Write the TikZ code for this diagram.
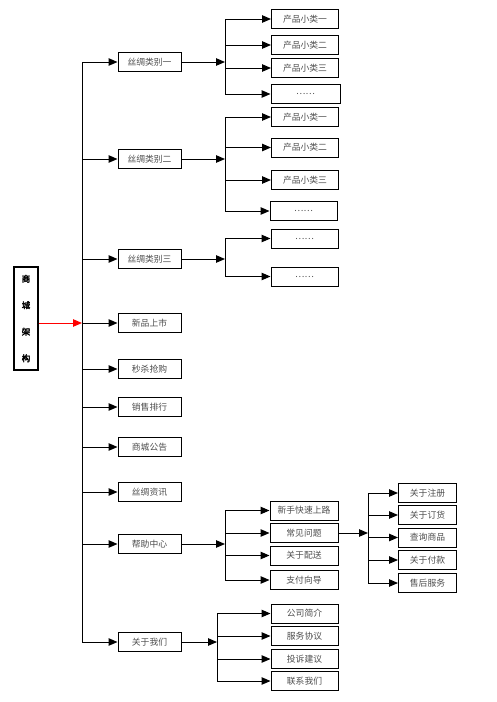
\documentclass[tikz,border=0pt]{standalone}
\usepackage{fontspec}
\newfontfamily\cjk{Noto Sans CJK SC}
\newfontfamily\cjkbold[FakeBold=3]{Noto Sans CJK SC}
\usetikzlibrary{arrows.meta}
\begin{document}
\begin{tikzpicture}[x=1pt,y=-1pt,
		box/.style={draw,line width=1pt,minimum height=19pt,inner sep=0pt,text=black!70,font=\cjk\fontsize{8.8}{10}\selectfont},
		catbox/.style={box,minimum width=63pt},
		subbox/.style={box,minimum width=67pt},
		faqbox/.style={box,minimum width=58pt},
		arr/.style={line width=1pt,-{Triangle[length=9pt,width=7.5pt]}},
		ln/.style={line width=1pt}]
		\useasboundingbox (0,0) rectangle (496,702);
		\node[draw,line width=1.1pt,minimum width=24pt,minimum height=103pt,inner sep=0pt,align=center,font=\cjkbold\fontsize{8.5}{26.5}\selectfont] (root) at (26,318.5) {商\\城\\架\\构};
		\coordinate (trunk) at (82,0);
		\coordinate (ja) at (225,0);
		\coordinate (jb) at (225,0);
		\coordinate (jc) at (225,0);
		\coordinate (jh) at (225,0);
		\coordinate (ju) at (217,0);
		\coordinate (jq) at (368,0);
		\node[catbox] (c1) at (149.5,62) {丝绸类别一};
		\node[catbox] (c2) at (149.5,159) {丝绸类别二};
		\node[catbox] (c3) at (149.5,259) {丝绸类别三};
		\node[catbox] (c4) at (149.5,323) {新品上市};
		\node[catbox] (c5) at (149.5,369) {秒杀抢购};
		\node[catbox] (c6) at (149.5,407) {销售排行};
		\node[catbox] (c7) at (149.5,447) {商城公告};
		\node[catbox] (c8) at (149.5,492) {丝绸资讯};
		\node[catbox] (c9) at (149.5,544) {帮助中心};
		\node[catbox] (c10) at (149.5,642) {关于我们};
		\node[subbox] (a1) at (305,19) {产品小类一};
		\node[subbox] (a2) at (305,45) {产品小类二};
		\node[subbox] (a3) at (305,68) {产品小类三};
		\node[subbox,minimum width=69pt] (a4) at (305.5,94) {……};
		\node[subbox] (b1) at (305,117) {产品小类一};
		\node[subbox] (b2) at (305,147.5) {产品小类二};
		\node[subbox] (b3) at (305,180) {产品小类三};
		\node[subbox] (b4) at (303.5,211) {……};
		\node[subbox] (d1) at (304.5,238.5) {……};
		\node[subbox] (d2) at (304.5,276.5) {……};
		\node[subbox,minimum width=68pt] (h1) at (304,510.5) {新手快速上路};
		\node[subbox,minimum width=68pt] (h2) at (304,533) {常见问题};
		\node[subbox,minimum width=68pt] (h3) at (304,555.5) {关于配送};
		\node[subbox,minimum width=68pt] (h4) at (304,580) {支付向导};
		\node[subbox] (u1) at (304.5,613.5) {公司简介};
		\node[subbox] (u2) at (304.5,636) {服务协议};
		\node[subbox] (u3) at (304.5,659) {投诉建议};
		\node[subbox] (u4) at (304.5,681) {联系我们};
		\node[faqbox] (q1) at (427.5,493) {关于注册};
		\node[faqbox] (q2) at (427.5,515) {关于订货};
		\node[faqbox] (q3) at (427.5,537.5) {查询商品};
		\node[faqbox] (q4) at (427.5,560) {关于付款};
		\node[faqbox] (q5) at (427.5,583) {售后服务};
		\draw[arr,red] (root.east |- c4.west) -- (trunk |- c4.west);
		\draw[ln] (trunk |- c1.west) -- (trunk |- c10.west);
		\draw[arr] (trunk |- c1.west) -- (c1.west);
		\draw[arr] (trunk |- c2.west) -- (c2.west);
		\draw[arr] (trunk |- c3.west) -- (c3.west);
		\draw[arr] (trunk |- c4.west) -- (c4.west);
		\draw[arr] (trunk |- c5.west) -- (c5.west);
		\draw[arr] (trunk |- c6.west) -- (c6.west);
		\draw[arr] (trunk |- c7.west) -- (c7.west);
		\draw[arr] (trunk |- c8.west) -- (c8.west);
		\draw[arr] (trunk |- c9.west) -- (c9.west);
		\draw[arr] (trunk |- c10.west) -- (c10.west);
		\draw[arr] (c1.east) -- (ja |- c1.east);
		\draw[ln] (ja |- a1.west) -- (ja |- a4.west);
		\draw[arr] (ja |- a1.west) -- (a1.west);
		\draw[arr] (ja |- a2.west) -- (a2.west);
		\draw[arr] (ja |- a3.west) -- (a3.west);
		\draw[arr] (ja |- a4.west) -- (a4.west);
		\draw[arr] (c2.east) -- (jb |- c2.east);
		\draw[ln] (jb |- b1.west) -- (jb |- b4.west);
		\draw[arr] (jb |- b1.west) -- (b1.west);
		\draw[arr] (jb |- b2.west) -- (b2.west);
		\draw[arr] (jb |- b3.west) -- (b3.west);
		\draw[arr] (jb |- b4.west) -- (b4.west);
		\draw[arr] (c3.east) -- (jc |- c3.east);
		\draw[ln] (jc |- d1.west) -- (jc |- d2.west);
		\draw[arr] (jc |- d1.west) -- (d1.west);
		\draw[arr] (jc |- d2.west) -- (d2.west);
		\draw[arr] (c9.east) -- (jh |- c9.east);
		\draw[ln] (jh |- h1.west) -- (jh |- h4.west);
		\draw[arr] (jh |- h1.west) -- (h1.west);
		\draw[arr] (jh |- h2.west) -- (h2.west);
		\draw[arr] (jh |- h3.west) -- (h3.west);
		\draw[arr] (jh |- h4.west) -- (h4.west);
		\draw[arr] (c10.east) -- (ju |- c10.east);
		\draw[ln] (ju |- u1.west) -- (ju |- u4.west);
		\draw[arr] (ju |- u1.west) -- (u1.west);
		\draw[arr] (ju |- u2.west) -- (u2.west);
		\draw[arr] (ju |- u3.west) -- (u3.west);
		\draw[arr] (ju |- u4.west) -- (u4.west);
		\draw[arr] (h2.east) -- (jq |- h2.east);
		\draw[ln] (jq |- q1.west) -- (jq |- q5.west);
		\draw[arr] (jq |- q1.west) -- (q1.west);
		\draw[arr] (jq |- q2.west) -- (q2.west);
		\draw[arr] (jq |- q3.west) -- (q3.west);
		\draw[arr] (jq |- q4.west) -- (q4.west);
		\draw[arr] (jq |- q5.west) -- (q5.west);
	\end{tikzpicture}
\end{document}
